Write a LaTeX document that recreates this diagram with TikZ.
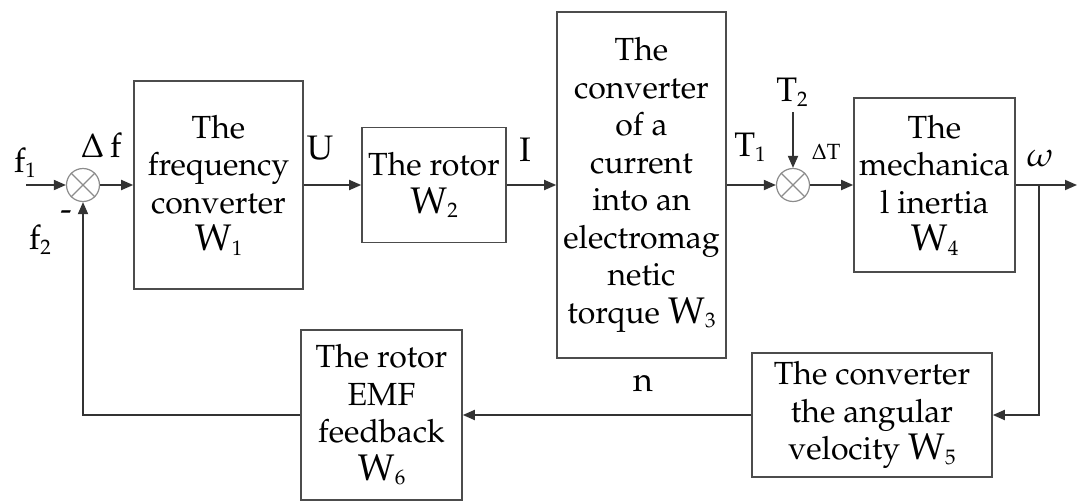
\documentclass[tikz,border=0pt]{standalone}
\usepackage[T1]{fontenc}
\usepackage{mathpazo}
\usetikzlibrary{arrows.meta}
\newcommand\ssub[1]{\raisebox{-0.3ex}{\fontsize{21}{21}\selectfont #1}}
\newcommand\WW[1]{{\fontsize{37}{40}\selectfont W}\ssub{#1}}
\begin{document}
\begin{tikzpicture}[x=1pt,y=-1pt,
  blk/.style={draw=black!70, line width=1.6pt, align=center, inner sep=0pt,
    font=\fontsize{32}{37.5}\selectfont},
  sumj/.style={circle, draw=black!45, line width=1.2pt, minimum size=33pt, inner sep=0pt},
  cross/.style={draw=black!45, line width=1.2pt},
  conn/.style={draw=black!80, line width=1.8pt, -{Triangle[length=12pt,width=10pt]}},
  lbl/.style={font=\fontsize{34}{37}\selectfont, inner sep=0pt}
]
\useasboundingbox (0,0) rectangle (1077,501);

% blocks
\node[blk, minimum width=169pt, minimum height=208pt] (w1) at (218.5,185)
  {The\\frequency\\converter\\\WW{1}};
\node[blk, minimum width=144pt, minimum height=115pt] (w2) at (434,185)
  {The rotor\\\WW{2}};
\node[blk, minimum width=169pt, minimum height=346pt] (w3) at (641.5,185)
  {The\\converter\\of a\\current\\into an\\electromag\\netic\\torque \WW{3}};
\node[blk, minimum width=161pt, minimum height=174pt] (w4) at (934.5,185)
  {The\\mechanica\\l inertia\\\WW{4}};
\node[blk, minimum width=240pt, minimum height=124pt] (w5) at (872,415)
  {The converter\\the angular\\velocity \WW{5}};
\node[blk, minimum width=161pt, minimum height=170pt] (w6) at (381.5,415)
  {The rotor\\EMF\\feedback\\\WW{6}};

% summing junctions
\node[sumj] (s1) at (83,185) {};
\draw[cross] (s1.45) -- (s1.225) (s1.135) -- (s1.315);
\node[sumj] (s2) at (793,185) {};
\draw[cross] (s2.45) -- (s2.225) (s2.135) -- (s2.315);

% free ends
\coordinate (in1) at (26,185);
\coordinate (out) at (1077,185);
\coordinate (br) at (1039,185);
\coordinate (t2) at (793,112);

% connectors
\draw[conn] (in1) -- (s1);
\draw[conn] (s1) -- (w1);
\draw[conn] (w1) -- (w2);
\draw[conn] (w2) -- (w3);
\draw[conn] (w3) -- (s2);
\draw[conn] (s2) -- (w4);
\draw[conn] (w4) -- (out);
\draw[conn] (br) |- (w5);
\draw[conn] (w5) -- (w6);
\draw[conn] (w6.west) -| (s1.south);
\draw[conn] (t2) -- (s2);

% labels
\node[lbl] (lf1) at (25,163) {f\ssub{1}};
\node[lbl] (ldf) at (101,145) {$\Delta$\,f};
\node[lbl] (lf2) at (40,240) {f\ssub{2}};
\node[lbl] (lmin) at (66,216) {-};
\node[lbl] (lU) at (320,148) {U};
\node[lbl] (lI) at (525,150) {I};
\node[lbl] (lT1) at (750,147) {T\ssub{1}};
\node[lbl] (lT2) at (792,92) {T\ssub{2}};
\node[lbl, font=\fontsize{22}{24}\selectfont] (ldT) at (826,152) {$\Delta$T};
\node[lbl] (lw) at (1040,158) {$\omega$};
\node[lbl] (ln) at (643,383) {n};
\end{tikzpicture}
\end{document}
